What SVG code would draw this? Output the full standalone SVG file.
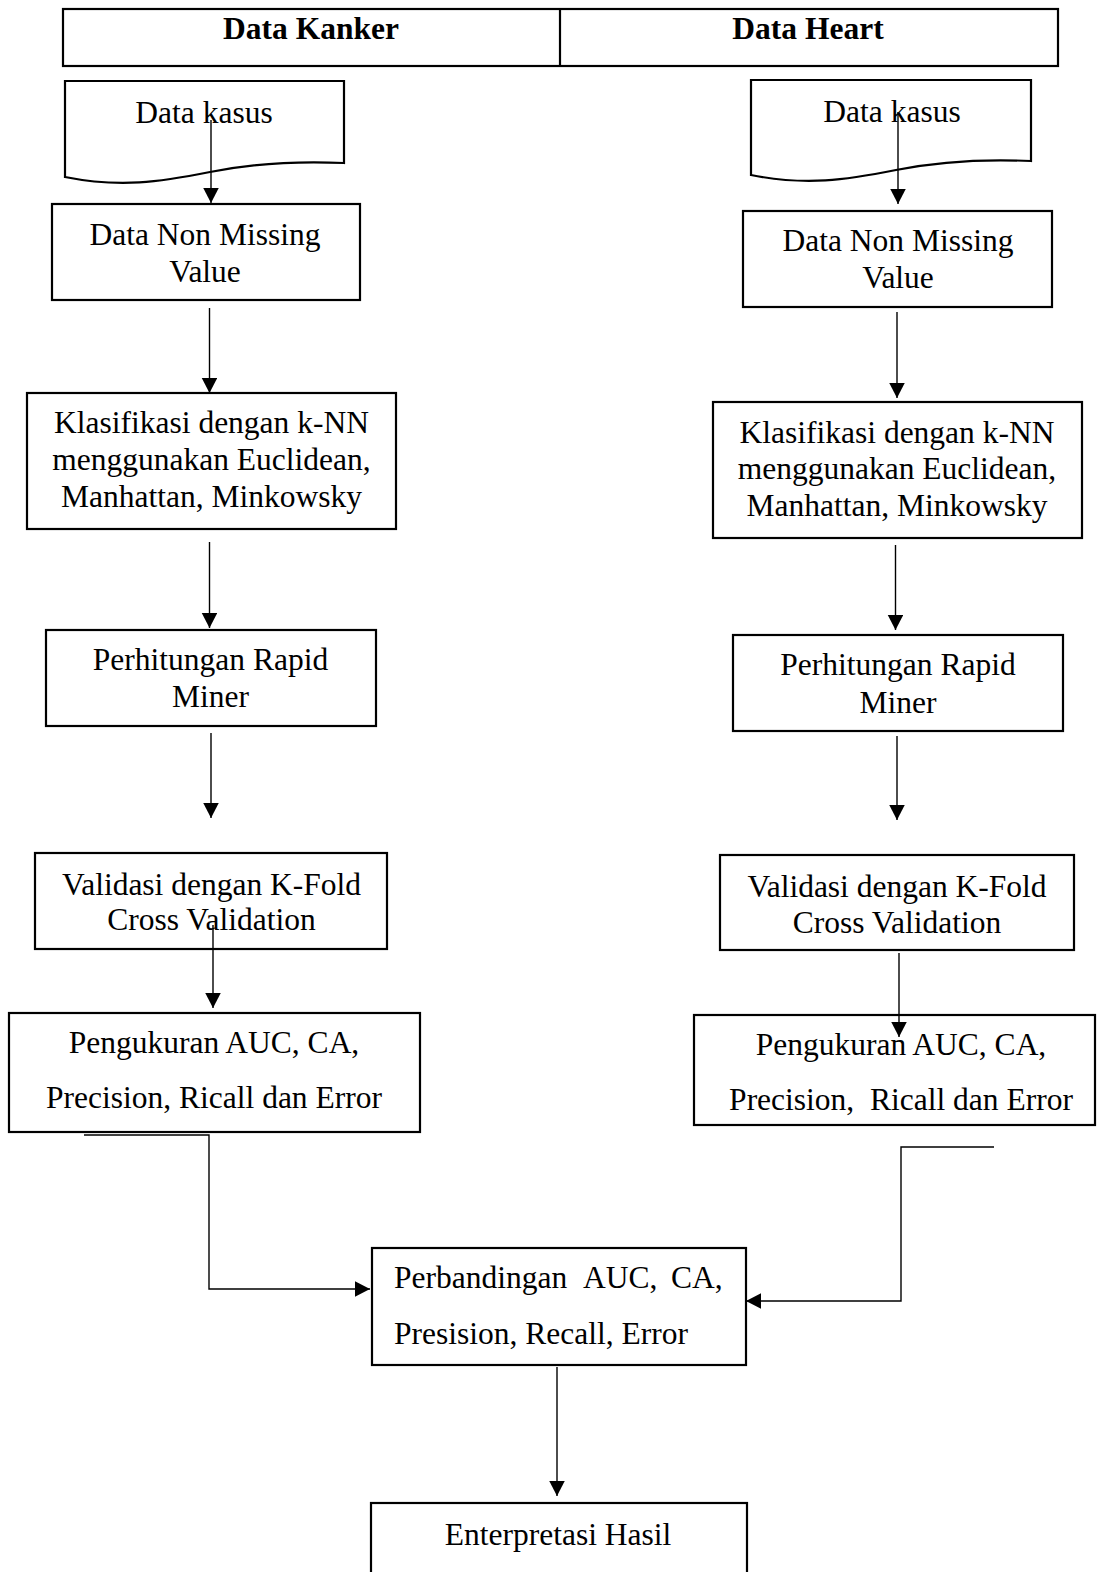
<svg xmlns="http://www.w3.org/2000/svg" width="1097" height="1572" viewBox="0 0 1097 1572">
<style>
.box{fill:#fff;stroke:#000;stroke-width:2.2}
.t{font-family:"Liberation Serif","Times New Roman",serif;font-size:31.5px;fill:#000;text-anchor:middle}
.tl{font-family:"Liberation Serif","Times New Roman",serif;font-size:31.5px;fill:#000}
.h{font-family:"Liberation Serif","Times New Roman",serif;font-size:31.5px;font-weight:bold;fill:#000;text-anchor:middle}
.c{fill:none;stroke:#000;stroke-width:1.4}
</style>
<defs>
<marker id="ah" markerUnits="userSpaceOnUse" markerWidth="16" markerHeight="16" refX="15" refY="7.75" orient="auto">
<path d="M0,0 L15,7.75 L0,15.5 Z" fill="#000"/>
</marker>
</defs>
<rect width="1097" height="1572" fill="#fff"/>

<g id="header">
<rect class="box" x="63" y="9" width="995" height="57"/>
<line x1="560" y1="9" x2="560" y2="66" stroke="#000" stroke-width="2.2"/>
<text class="h" x="311" y="39">Data Kanker</text>
<text class="h" x="808" y="39">Data Heart</text>
</g>

<g id="k-data-kasus">
<path class="box" d="M65,177 V81 H344 V163 C300,161 255,163 210,172 C160,182 120,188 65,177 Z"/>
<text class="t" x="204" y="123">Data kasus</text>
</g>
<g id="k-nonmissing">
<rect class="box" x="52" y="204" width="308" height="96"/>
<text class="t" x="205" y="245">Data Non Missing</text>
<text class="t" x="205" y="282">Value</text>
</g>
<g id="k-klasifikasi">
<rect class="box" x="27" y="393" width="369" height="136"/>
<text class="t" x="211.5" y="433">Klasifikasi dengan k-NN</text>
<text class="t" x="211.5" y="470">menggunakan Euclidean,</text>
<text class="t" x="211.5" y="507">Manhattan, Minkowsky</text>
</g>
<g id="k-rapidminer">
<rect class="box" x="46" y="630" width="330" height="96"/>
<text class="t" x="210.5" y="670">Perhitungan Rapid</text>
<text class="t" x="210.5" y="707">Miner</text>
</g>
<g id="k-validasi">
<rect class="box" x="35" y="853" width="352" height="96"/>
<text class="t" x="211.5" y="895">Validasi dengan K-Fold</text>
<text class="t" x="211.5" y="930">Cross Validation</text>
</g>
<g id="k-pengukuran">
<rect class="box" x="9" y="1013" width="411" height="119"/>
<text class="t" x="214" y="1053">Pengukuran AUC, CA,</text>
<text class="t" x="214" y="1108">Precision, Ricall dan Error</text>
</g>

<g id="h-data-kasus">
<path class="box" d="M751,175 V80 H1031 V161 C986,159 941,161 896,170 C846,180 806,186 751,175 Z"/>
<text class="t" x="892" y="122">Data kasus</text>
</g>
<g id="h-nonmissing">
<rect class="box" x="743" y="211" width="309" height="96"/>
<text class="t" x="898" y="251">Data Non Missing</text>
<text class="t" x="898" y="288">Value</text>
</g>
<g id="h-klasifikasi">
<rect class="box" x="713" y="402" width="369" height="136"/>
<text class="t" x="897" y="443">Klasifikasi dengan k-NN</text>
<text class="t" x="897" y="479">menggunakan Euclidean,</text>
<text class="t" x="897" y="516">Manhattan, Minkowsky</text>
</g>
<g id="h-rapidminer">
<rect class="box" x="733" y="635" width="330" height="96"/>
<text class="t" x="898" y="675">Perhitungan Rapid</text>
<text class="t" x="898" y="713">Miner</text>
</g>
<g id="h-validasi">
<rect class="box" x="720" y="855" width="354" height="95"/>
<text class="t" x="897" y="897">Validasi dengan K-Fold</text>
<text class="t" x="897" y="933">Cross Validation</text>
</g>
<g id="h-pengukuran">
<rect class="box" x="694" y="1015" width="401" height="110"/>
<text class="t" x="901" y="1055">Pengukuran AUC, CA,</text>
<text class="t" x="901" y="1110" xml:space="preserve">Precision,  Ricall dan Error</text>
</g>

<g id="perbandingan">
<rect class="box" x="372" y="1248" width="374" height="117"/>
<text class="tl" y="1288"><tspan x="394">Perbandingan</tspan><tspan x="583">AUC,</tspan><tspan x="671">CA,</tspan></text>
<text class="tl" x="394" y="1344">Presision, Recall, Error</text>
</g>
<g id="enterpretasi">
<rect class="box" x="371" y="1503" width="376" height="90"/>
<text class="t" x="558" y="1545">Enterpretasi Hasil</text>
</g>

<g id="connectors">
<line class="c" x1="211" y1="120" x2="211" y2="203" marker-end="url(#ah)"/>
<line class="c" x1="209.5" y1="308" x2="209.5" y2="393" marker-end="url(#ah)"/>
<line class="c" x1="209.5" y1="542" x2="209.5" y2="628" marker-end="url(#ah)"/>
<line class="c" x1="211" y1="733" x2="211" y2="818" marker-end="url(#ah)"/>
<line class="c" x1="213" y1="925" x2="213" y2="1008" marker-end="url(#ah)"/>
<line class="c" x1="898" y1="112" x2="898" y2="204" marker-end="url(#ah)"/>
<line class="c" x1="897" y1="312" x2="897" y2="398" marker-end="url(#ah)"/>
<line class="c" x1="895.5" y1="545" x2="895.5" y2="630" marker-end="url(#ah)"/>
<line class="c" x1="897" y1="736" x2="897" y2="820" marker-end="url(#ah)"/>
<line class="c" x1="899" y1="953" x2="899" y2="1037" marker-end="url(#ah)"/>
<path class="c" d="M84,1135 H209 V1289 H370" marker-end="url(#ah)"/>
<path class="c" d="M994,1147 H901 V1301 H746" marker-end="url(#ah)"/>
<line class="c" x1="557" y1="1367" x2="557" y2="1496" marker-end="url(#ah)"/>
</g>
</svg>
